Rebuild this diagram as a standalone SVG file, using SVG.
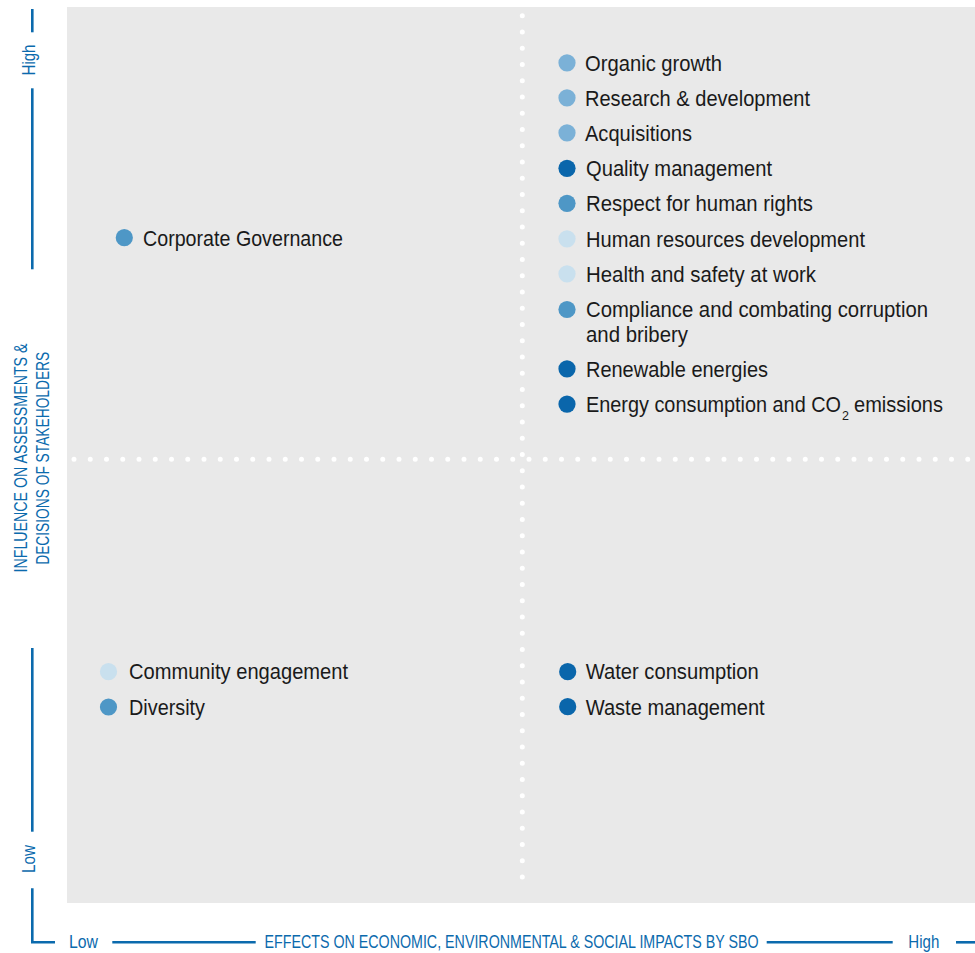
<svg xmlns="http://www.w3.org/2000/svg" width="975" height="953" viewBox="0 0 975 953">
  <style>
    .item { font-family: "Liberation Sans", Arial, sans-serif; font-size: 21.5px; fill: #1a1a1a; }
    .axis { font-family: "Liberation Sans", Arial, sans-serif; font-size: 18px; fill: #0b6aad; }
    .axisline { stroke: #0b6aad; stroke-width: 2.6; fill: none; }
    .grid { stroke: #ffffff; stroke-width: 5; stroke-linecap: round; stroke-dasharray: 0 16.25; fill: none; }
    .c-dark { fill: #0a66ab; }
    .c-mid { fill: #4e97c6; }
    .c-light { fill: #7bb1d7; }
    .c-pale { fill: #c9e0ee; }
  </style>

  <!-- plot area -->
  <rect x="67" y="7" width="908" height="896" fill="#e9e9e9"/>

  <!-- quadrant dividers -->
  <g id="grid">
    <line class="grid" x1="522.3" y1="15.7" x2="522.3" y2="891"/>
    <line class="grid" x1="74" y1="459.3" x2="972" y2="459.3"/>
  </g>

  <!-- axes -->
  <g id="axes">
    <line class="axisline" x1="32.3" y1="9" x2="32.3" y2="32.3"/>
    <line class="axisline" x1="32.3" y1="88.3" x2="32.3" y2="269.3"/>
    <line class="axisline" x1="32.3" y1="648" x2="32.3" y2="831.7"/>
    <polyline class="axisline" points="32.3,888.3 32.3,942.3 55,942.3"/>
    <line class="axisline" x1="112.3" y1="942.3" x2="255.7" y2="942.3"/>
    <line class="axisline" x1="766.7" y1="942.3" x2="892.7" y2="942.3"/>
    <line class="axisline" x1="956" y1="942.3" x2="975" y2="942.3"/>

    <text class="axis" transform="translate(35,60) rotate(-90)" text-anchor="middle" textLength="31" lengthAdjust="spacingAndGlyphs">High</text>
    <text class="axis" transform="translate(35,859) rotate(-90)" text-anchor="middle" textLength="28" lengthAdjust="spacingAndGlyphs">Low</text>
    <text class="axis" transform="translate(27,458) rotate(-90)" text-anchor="middle" textLength="229" lengthAdjust="spacingAndGlyphs">INFLUENCE ON ASSESSMENTS &amp;</text>
    <text class="axis" transform="translate(48.5,458.3) rotate(-90)" text-anchor="middle" textLength="213" lengthAdjust="spacingAndGlyphs">DECISIONS OF STAKEHOLDERS</text>

    <text class="axis" x="69" y="948.3" textLength="29" lengthAdjust="spacingAndGlyphs">Low</text>
    <text class="axis" x="264.5" y="948.3" textLength="494" lengthAdjust="spacingAndGlyphs">EFFECTS ON ECONOMIC, ENVIRONMENTAL &amp; SOCIAL IMPACTS BY SBO</text>
    <text class="axis" x="908.3" y="948.3" textLength="31" lengthAdjust="spacingAndGlyphs">High</text>
  </g>

  <!-- upper left -->
  <g id="corporate-governance">
    <circle class="c-mid" cx="124.3" cy="237.7" r="8.6"/>
    <text class="item" x="143" y="245.5" textLength="200" lengthAdjust="spacingAndGlyphs">Corporate Governance</text>
  </g>

  <!-- upper right -->
  <g id="organic-growth">
    <circle class="c-light" cx="567" cy="62.8" r="8.6"/>
    <text class="item" x="585" y="70.6" textLength="137" lengthAdjust="spacingAndGlyphs">Organic growth</text>
  </g>
  <g id="research-development">
    <circle class="c-light" cx="567" cy="97.8" r="8.6"/>
    <text class="item" x="585" y="105.6" textLength="225" lengthAdjust="spacingAndGlyphs">Research &amp; development</text>
  </g>
  <g id="acquisitions">
    <circle class="c-light" cx="567" cy="132.8" r="8.6"/>
    <text class="item" x="585" y="140.6" textLength="107" lengthAdjust="spacingAndGlyphs">Acquisitions</text>
  </g>
  <g id="quality-management">
    <circle class="c-dark" cx="567" cy="168.3" r="8.6"/>
    <text class="item" x="586" y="176.1" textLength="186" lengthAdjust="spacingAndGlyphs">Quality management</text>
  </g>
  <g id="human-rights">
    <circle class="c-mid" cx="567" cy="203.3" r="8.6"/>
    <text class="item" x="586" y="211.1" textLength="227" lengthAdjust="spacingAndGlyphs">Respect for human rights</text>
  </g>
  <g id="hr-development">
    <circle class="c-pale" cx="567" cy="238.8" r="8.6"/>
    <text class="item" x="586" y="246.6" textLength="279" lengthAdjust="spacingAndGlyphs">Human resources development</text>
  </g>
  <g id="health-safety">
    <circle class="c-pale" cx="567" cy="273.8" r="8.6"/>
    <text class="item" x="586" y="281.6" textLength="230" lengthAdjust="spacingAndGlyphs">Health and safety at work</text>
  </g>
  <g id="compliance">
    <circle class="c-mid" cx="567" cy="309.5" r="8.6"/>
    <text class="item" x="586" y="317.2" textLength="342" lengthAdjust="spacingAndGlyphs">Compliance and combating corruption</text>
    <text class="item" x="586" y="341.7" textLength="102" lengthAdjust="spacingAndGlyphs">and bribery</text>
  </g>
  <g id="renewable-energies">
    <circle class="c-dark" cx="567" cy="368.8" r="8.6"/>
    <text class="item" x="586" y="376.6" textLength="182" lengthAdjust="spacingAndGlyphs">Renewable energies</text>
  </g>
  <g id="energy-co2">
    <circle class="c-dark" cx="567" cy="404.1" r="8.6"/>
    <text class="item" y="411.9"><tspan x="586" textLength="255" lengthAdjust="spacingAndGlyphs">Energy consumption and CO</tspan><tspan x="842" y="420" font-size="12.5">2</tspan><tspan x="854" y="411.9" textLength="89" lengthAdjust="spacingAndGlyphs">emissions</tspan></text>
  </g>

  <!-- lower left -->
  <g id="community-engagement">
    <circle class="c-pale" cx="108.5" cy="671.7" r="8.6"/>
    <text class="item" x="129" y="679.4" textLength="219" lengthAdjust="spacingAndGlyphs">Community engagement</text>
  </g>
  <g id="diversity">
    <circle class="c-mid" cx="108.5" cy="707" r="8.6"/>
    <text class="item" x="129" y="714.8" textLength="76" lengthAdjust="spacingAndGlyphs">Diversity</text>
  </g>

  <!-- lower right -->
  <g id="water-consumption">
    <circle class="c-dark" cx="567.7" cy="671.7" r="8.6"/>
    <text class="item" x="585.7" y="679.4" textLength="173" lengthAdjust="spacingAndGlyphs">Water consumption</text>
  </g>
  <g id="waste-management">
    <circle class="c-dark" cx="567.7" cy="706.7" r="8.6"/>
    <text class="item" x="585.7" y="714.6" textLength="179" lengthAdjust="spacingAndGlyphs">Waste management</text>
  </g>
</svg>
